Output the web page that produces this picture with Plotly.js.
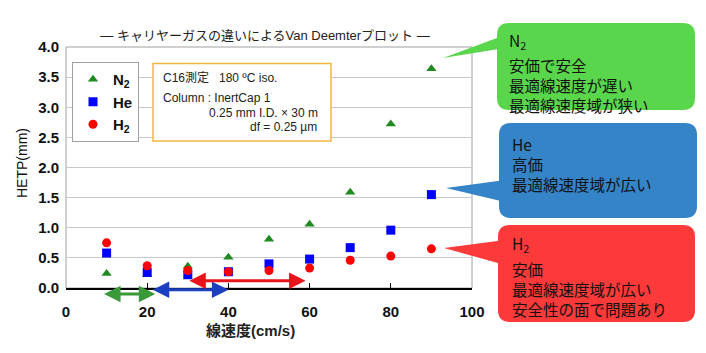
<!DOCTYPE html>
<html><head><meta charset="utf-8">
<script src="https://cdn.plot.ly/plotly-3.0.1.min.js"></script>
<style>html,body{margin:0;padding:0;background:#fff;}</style>
</head><body><div id="chart" style="width:706px;height:353px;"></div>
<script>
// ---- data ----
const velocity = [10, 20, 30, 40, 50, 60, 70, 80, 90];
const hetpN2 = [0.24, 0.22, 0.36, 0.51, 0.81, 1.06, 1.59, 2.72, 3.64];
const hetpHe = [0.58, 0.26, 0.22, 0.27, 0.40, 0.48, 0.67, 0.96, 1.55];
const hetpH2 = [0.75, 0.37, 0.29, 0.27, 0.29, 0.33, 0.46, 0.53, 0.65];
const gasNames = ['<b>N<sub>2</sub></b>', '<b>He</b>', '<b>H<sub>2</sub></b>'];
// optimum linear-velocity ranges (cm/s) for N2, He, H2
const optStart = [9, 21, 30];
const optEnd = [22, 40, 59];
const optLevel = [-0.1, -0.03, 0.12];
const xTicks = [0, 20, 40, 60, 80, 100];
const yTicks = [0, 0.5, 1.0, 1.5, 2.0, 2.5, 3.0, 3.5, 4.0];
const yRange = [0, 4];
const calloutN2 = ['N<sub>2</sub>', '安価で安全', '最適線速度が遅い', '最適線速度域が狭い'];
const calloutHe = ['He', '高価', '最適線速度域が広い'];
const calloutH2 = ['H<sub>2</sub>', '安価', '最適線速度域が広い', '安全性の面で問題あり'];

const FONT = 'Liberation Sans, Arial, Noto Sans CJK JP, sans-serif';
const JFONT = 'Noto Sans CJK JP, Liberation Sans, sans-serif';
const L = 66, R = 472, T = 47, B = 288, W = 706, H = 353;
const px = x => (x - L) / (R - L);
const py = y => (B - y) / (B - T);

function rrect(x0, y0, x1, y1, r) {
  const P = (x, y) => px(x).toFixed(5) + ',' + py(y).toFixed(5);
  return 'M' + P(x0 + r, y0) + ' L' + P(x1 - r, y0) + ' Q' + P(x1, y0) + ' ' + P(x1, y0 + r) +
    ' L' + P(x1, y1 - r) + ' Q' + P(x1, y1) + ' ' + P(x1 - r, y1) +
    ' L' + P(x0 + r, y1) + ' Q' + P(x0, y1) + ' ' + P(x0, y1 - r) +
    ' L' + P(x0, y0 + r) + ' Q' + P(x0, y0) + ' ' + P(x0 + r, y0) + ' Z';
}
function tri(a, b, c) {
  const P = p => px(p[0]).toFixed(5) + ',' + py(p[1]).toFixed(5);
  return 'M' + P(a) + ' L' + P(b) + ' L' + P(c) + ' Z';
}

const traces = [
  {x: velocity, y: hetpN2, name: gasNames[0], type: 'scatter', mode: 'markers',
   marker: {symbol: 'triangle-up', size: 9, color: '#1f8a1f'}},
  {x: velocity, y: hetpHe, name: gasNames[1], type: 'scatter', mode: 'markers',
   marker: {symbol: 'square', size: 9, color: '#0000ff'}},
  {x: velocity, y: hetpH2, name: gasNames[2], type: 'scatter', mode: 'markers',
   marker: {symbol: 'circle', size: 9, color: '#ff0000'}}
];

const arrowColors = ['#3a9a3a', '#1a3fc0', '#e8141b'];
const annotations = [];
for (let i = 0; i < optStart.length; i++) {
  const yp = (optLevel[i] - yRange[0]) / (yRange[1] - yRange[0]);
  annotations.push({x: optEnd[i], y: yp, ax: optStart[i], ay: 0,
    xref: 'x', yref: 'paper', axref: 'x', ayref: 'pixel', text: '', showarrow: true,
    arrowside: 'end+start', arrowhead: 2, arrowsize: 1.1, arrowwidth: 3,
    arrowcolor: arrowColors[i], standoff: 0, startstandoff: 0});
}
function txt(t, x, y, opts) {
  return Object.assign({text: t, x: px(x), y: py(y), xref: 'paper', yref: 'paper',
    showarrow: false, xanchor: 'left', yanchor: 'middle',
    font: {family: FONT, size: 12, color: '#222'}}, opts || {});
}
// info box text
annotations.push(txt('C16測定   180 ºC iso.', 161, 78));
annotations.push(txt('Column : InertCap 1', 161, 98));
annotations.push(txt('0.25 mm I.D. × 30 m', 320, 113, {xanchor: 'right'}));
annotations.push(txt('df = 0.25 µm', 319, 127, {xanchor: 'right'}));
// axis titles
annotations.push(txt('<b>線速度(cm/s)</b>', 250, 330, {xanchor: 'center', font: {family: FONT, size: 15, color: '#222'}}));
annotations.push(txt('HETP(mm)', 22, 163, {xanchor: 'center', textangle: -90, font: {family: FONT, size: 14, color: '#111'}}));
// callouts
const cf = {family: JFONT, size: 15.5, color: '#111'};
annotations.push(txt(calloutN2[0], 507, 41, {font: cf}));
annotations.push(txt(calloutN2.slice(1).join('<br>'), 507, 52, {font: cf, yanchor: 'top', align: 'left'}));
annotations.push(txt(calloutHe.join('<br>'), 510, 131, {font: cf, yanchor: 'top', align: 'left'}));
annotations.push(txt(calloutH2[0], 510, 244, {font: cf}));
annotations.push(txt(calloutH2.slice(1).join('<br>'), 510, 256, {font: cf, yanchor: 'top', align: 'left'}));

const shapes = [
  {type: 'rect', xref: 'paper', yref: 'paper', x0: 0, x1: 1, y0: 0, y1: 1,
   line: {color: '#a0a0a0', width: 1}, layer: 'below'},
  {type: 'rect', xref: 'paper', yref: 'paper', x0: px(153), x1: px(331), y0: py(141), y1: py(63.5),
   line: {color: '#f2b640', width: 1.5}, fillcolor: '#ffffff'},
  {type: 'path', xref: 'paper', yref: 'paper', path: rrect(497, 23, 695, 110, 12), fillcolor: '#5ad64c', line: {width: 0}},
  {type: 'path', xref: 'paper', yref: 'paper', path: tri([443, 58], [505, 35], [505, 48]), fillcolor: '#5ad64c', line: {width: 0}},
  {type: 'path', xref: 'paper', yref: 'paper', path: rrect(499, 123, 697, 218, 12), fillcolor: '#3584c8', line: {width: 0}},
  {type: 'path', xref: 'paper', yref: 'paper', path: tri([446, 188], [505, 180], [505, 202]), fillcolor: '#3584c8', line: {width: 0}},
  {type: 'path', xref: 'paper', yref: 'paper', path: rrect(498, 225, 695, 322, 12), fillcolor: '#fc3a3a', line: {width: 0}},
  {type: 'path', xref: 'paper', yref: 'paper', path: tri([444, 248], [505, 240], [505, 265]), fillcolor: '#fc3a3a', line: {width: 0}}
];

const layout = {
  width: W, height: H,
  margin: {l: L, r: W - R, t: T, b: H - B, pad: 0},
  paper_bgcolor: '#fff', plot_bgcolor: '#fff',
  font: {family: FONT, color: '#111'},
  title: {text: '— キャリヤーガスの違いによるVan Deemterプロット —', x: px(265), xref: 'paper', xanchor: 'center',
          y: 1 - 35 / H, yref: 'container', yanchor: 'middle', font: {family: FONT, size: 13, color: '#222'}},
  xaxis: {range: [0, 100], tickvals: xTicks, ticktext: xTicks.map(String), ticks: 'inside', ticklen: 5,
          tickcolor: '#000', showline: true, linecolor: '#000', linewidth: 1.5, showgrid: false, zeroline: false,
          tickfont: {family: FONT, size: 15, color: '#111', weight: 'bold'}, ticklabelstandoff: 9, fixedrange: true},
  yaxis: {range: yRange, tickvals: yTicks, ticktext: yTicks.map(v => v.toFixed(1)), ticks: '', showline: false,
          showgrid: true, gridcolor: '#c8c8c8', gridwidth: 1, zeroline: false,
          tickfont: {family: FONT, size: 15, color: '#111', weight: 'bold'}, ticklabelstandoff: 6},
  showlegend: true,
  legend: {x: px(72), y: py(62), xanchor: 'left', yanchor: 'top', bgcolor: '#fff', bordercolor: '#a0a0a0',
           borderwidth: 1, font: {family: FONT, size: 15, color: '#111'}, tracegroupgap: 0, itemwidth: 30},
  annotations: annotations,
  shapes: shapes
};
Plotly.newPlot('chart', traces, layout, {displayModeBar: false, staticPlot: true});
</script></body></html>
